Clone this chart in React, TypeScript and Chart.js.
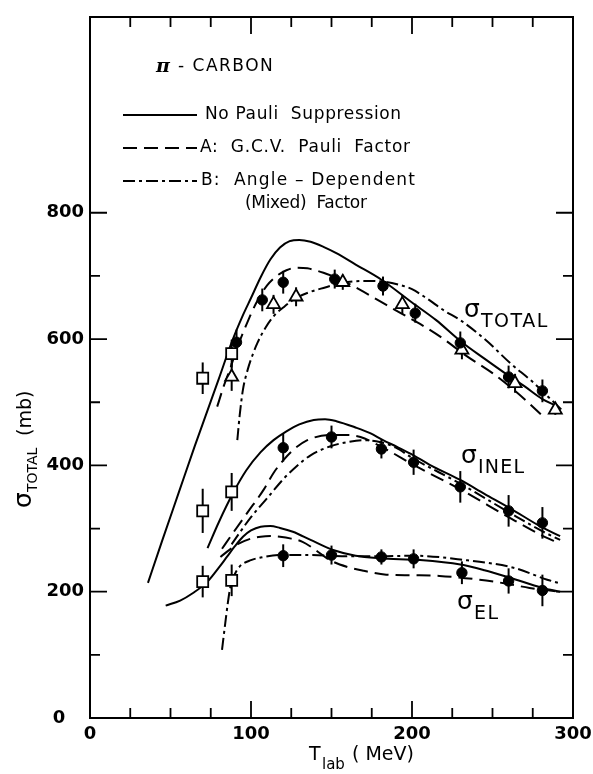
import React, { useEffect, useRef } from 'react';
import { Chart, registerables } from 'chart.js';
Chart.register(...registerables);

const FONT = '"DejaVu Sans", sans-serif';

// axis
const xTickLabels = [0, 100, 200, 300];
const yTickLabels = [0, 200, 400, 600, 800];
const xInnerTicks = [25, 50, 75, 100, 125, 150, 175, 200, 225, 250, 275];
const yInnerTicks = [100, 200, 300, 400, 500, 600, 700, 800];

// theory curves [T_lab (MeV), sigma (mb)]
const totalNoPauli = [[36,214],[45,282],[55,356],[65,430],[72,480],[80,537],[88,595],[95,638],[100,665],[106,698],[112,726],[118,745],[124,755],[130,757],[137,754],[145,746],[153,736],[165,718],[181,694],[200,658],[215,630],[230,597],[245,569],[260,542],[270,525],[281,505],[290,494]];
const totalGCV = [[79,493],[83,525],[87,553],[92,590],[97,622],[103,656],[110,685],[116,700],[122,709],[128,713],[135,712],[145,705],[155,695],[167,679],[180,660],[193,641],[205,624],[218,603],[234,573],[250,546],[263,520],[272,500],[280,481]];
const totalMixed = [[91.5,440],[93,480],[95,520],[98,552],[101,575],[104,594],[109,618],[114,636],[121,652],[128,665],[136,674],[145,681],[157,689],[170,692],[182,691],[192,686],[200,679],[210,663],[220,645],[230,630],[246,598],[261,562],[275,532],[284,510],[293,488]];

const inelNoPauli = [[73,269],[80,310],[89,357],[97,392],[106,421],[114,440],[122,454],[130,465],[139,472],[146,473],[153,470],[165,460],[174,451],[182,440],[191,429],[201,416],[211,401],[230,377],[245,355],[261,332],[280,303],[292,288]];
const inelGCV = [[82,268],[88,290],[98,326],[108,362],[114,388],[120,408],[126,424],[135,440],[149,448],[160,448],[168,445],[182,428],[203,398],[230,362],[260,318],[280,290],[292,276]];
const inelMixed = [[88,275],[92,290],[100,318],[110,348],[120,378],[128,398],[137,416],[149,430],[160,437],[170,440],[180,437],[190,428],[200,412],[230,371],[260,326],[280,297],[292,282]];

const elNoPauli = [[47,178],[56,186],[64,198],[73,216],[80,238],[85,255],[90,272],[95,287],[100,297],[106,303],[112,304],[118,301],[126,295],[137,282],[151,266],[165,257],[180,253],[205,250],[230,243],[245,234],[261,222],[281,206],[292,200]];
const elGCV = [[81,255],[87,267],[93,277],[100,284],[106,287],[112,288],[118,287],[125,284],[132,279],[139,268],[149,250],[160,239],[170,233],[184,227],[200,226],[217,225],[242,219],[258,213],[273,206],[292,200]];
const elMixed = [[82,108],[84,150],[85.5,180],[87,205],[90,228],[93,240],[100,250],[106,254],[118,258],[137,258],[160,256],[180,256],[201,257],[230,251],[263,238],[284,219],[292,213]];

// data points [T_lab, sigma] and errors
const totalSquares = [[70,538],[88,577]];
const totalSquaresErr = [25, 22];
const totalCircles = [[91,595],[107,662],[120,690],[152,695],[182,684],[202,641],[230,594],[260,540],[281,518]];
const totalCirclesErr = [20, 18, 18, 15, 15, 15, 18, 18, 18];
const totalTriangles = [[88,540],[114,655],[128,667],[157,690],[194,655],[231,583],[264,530],[289,488]];
const totalTrianglesErr = [22, 15, 15, 12, 15, 15, 15, 8];
const inelSquares = [[70,328],[88,358]];
const inelSquaresErr = [35, 30];
const inelCircles = [[120,428],[150,445],[181,426],[201,405],[230,366],[260,328],[281,309]];
const inelCirclesErr = [22, 18, 15, 20, 25, 25, 25];
const elSquares = [[70,216],[88,218]];
const elSquaresErr = [25, 25];
const elCircles = [[120,257],[150,258],[181,255],[201,252],[231,230],[260,217],[281,202]];
const elCirclesErr = [18, 15, 12, 15, 18, 20, 25];

const DASH_A = [14, 7];
const DASH_B = [12, 4, 3, 4];

const toXY = (a: number[][]) => a.map(([x, y]) => ({ x, y }));

function curve(data: number[][], dash: number[]) {
  return {
    data: toXY(data), showLine: true, pointRadius: 0, pointHoverRadius: 0,
    borderColor: '#000', borderWidth: 2, borderDash: dash,
    cubicInterpolationMode: 'monotone', fill: false, order: 5,
  };
}

function marker(data: number[][], errs: number[], style: string) {
  const filled = style === 'circle';
  return {
    data: toXY(data), showLine: false, errs,
    pointStyle: style,
    pointRadius: style === 'rect' ? 7.8 : style === 'triangle' ? 7.5 : 5.2,
    pointHoverRadius: style === 'rect' ? 7.8 : 7,
    backgroundColor: filled ? '#000' : '#fff', borderColor: '#000',
    borderWidth: filled ? 1 : 1.8, order: 1,
  };
}

function fitText(ctx: any, text: string, x: number, y: number, font: string, width?: number) {
  ctx.font = font;
  if (width && 'letterSpacing' in ctx && text.length > 1) {
    const w = ctx.measureText(text).width;
    const ls = Math.max(-1, Math.min(1.5, (width - w) / (text.length - 1)));
    ctx.letterSpacing = ls.toFixed(2) + 'px';
  }
  ctx.fillText(text, x, y);
  if ('letterSpacing' in ctx) ctx.letterSpacing = '0px';
}

const framePlugin = {
  id: 'frameTicks',
  beforeDatasetsDraw(chart: any) {
    const { ctx, scales } = chart;
    ctx.save();
    ctx.strokeStyle = '#000';
    ctx.lineWidth = 2;
    ctx.setLineDash([]);
    chart.data.datasets.forEach((ds: any) => {
      if (!ds.errs) return;
      ds.data.forEach((p: any, i: number) => {
        const e = ds.errs[i];
        const px = scales.x.getPixelForValue(p.x);
        ctx.beginPath();
        ctx.moveTo(px, scales.y.getPixelForValue(p.y - e));
        ctx.lineTo(px, scales.y.getPixelForValue(p.y + e));
        ctx.stroke();
      });
    });
    ctx.restore();
  },
  afterDraw(chart: any) {
    const { ctx, chartArea: a, scales } = chart;
    ctx.save();
    ctx.strokeStyle = '#000';
    ctx.fillStyle = '#000';
    ctx.setLineDash([]);
    ctx.lineWidth = 2;
    ctx.strokeRect(a.left, a.top, a.right - a.left, a.bottom - a.top);
    ctx.lineWidth = 1.8;
    ctx.beginPath();
    xInnerTicks.forEach((v) => {
      const px = scales.x.getPixelForValue(v);
      const len = v % 100 === 0 ? 17 : 10;
      ctx.moveTo(px, a.bottom); ctx.lineTo(px, a.bottom - len);
      ctx.moveTo(px, a.top); ctx.lineTo(px, a.top + len);
    });
    yInnerTicks.forEach((v) => {
      const py = scales.y.getPixelForValue(v);
      const len = v % 200 === 0 ? 17 : 10;
      ctx.moveTo(a.left, py); ctx.lineTo(a.left + len, py);
      ctx.moveTo(a.right, py); ctx.lineTo(a.right - len, py);
    });
    ctx.stroke();

    // header and legend
    ctx.textBaseline = 'middle';
    ctx.textAlign = 'left';
    fitText(ctx, 'π', 156, 67, 'italic bold 19px "DejaVu Serif", serif');
    fitText(ctx, '- CARBON', 178, 67, '17px ' + FONT, 106);

    const lx0 = 123, lx1 = 197;
    const legendLines: [number, number[]][] = [[115, []], [148, DASH_A], [181, DASH_B]];
    ctx.lineWidth = 2;
    legendLines.forEach(([y, d]) => {
      ctx.setLineDash(d);
      ctx.beginPath();
      ctx.moveTo(lx0, y); ctx.lineTo(lx1, y);
      ctx.stroke();
    });
    ctx.setLineDash([]);
    fitText(ctx, 'No Pauli  Suppression', 205, 115, '17px ' + FONT, 196);
    fitText(ctx, 'A:  G.C.V.  Pauli  Factor', 200, 148, '17px ' + FONT, 210);
    fitText(ctx, 'B:  Angle – Dependent', 201, 181, '17px ' + FONT, 214);
    fitText(ctx, '(Mixed)  Factor', 245, 204, '17px ' + FONT, 122);

    // curve labels
    ctx.textBaseline = 'alphabetic';
    const lab = (x: number, y: number, sub: string, w: number) => {
      fitText(ctx, 'σ', x, y, '25px ' + FONT);
      fitText(ctx, sub, x + 17, y + 10, '19px ' + FONT, w);
    };
    lab(464, 317, 'TOTAL', 67);
    lab(461, 463, 'INEL', 46);
    lab(457, 609, 'EL', 24);

    // x title
    fitText(ctx, 'T', 309, 760, '19px ' + FONT);
    fitText(ctx, 'lab', 322, 769, '15px ' + FONT);
    fitText(ctx, '( MeV)', 352, 760, '19px ' + FONT);

    // y title
    ctx.translate(31, 508);
    ctx.rotate(-Math.PI / 2);
    fitText(ctx, 'σ', 0, 0, '25px ' + FONT);
    fitText(ctx, 'TOTAL', 16, 6, '14px ' + FONT);
    fitText(ctx, '(mb)', 72, 0, '19px ' + FONT);
    ctx.restore();
  },
};

export default function App() {
  const ref = useRef<HTMLCanvasElement | null>(null);
  useEffect(() => {
    if (!ref.current) return;
    const tickFont = { family: FONT, size: 18, weight: 'bold' as const };
    const chart = new Chart(ref.current, {
      type: 'scatter',
      data: {
        datasets: [
          marker(totalSquares, totalSquaresErr, 'rect'),
          marker(totalCircles, totalCirclesErr, 'circle'),
          marker(totalTriangles, totalTrianglesErr, 'triangle'),
          marker(inelSquares, inelSquaresErr, 'rect'),
          marker(inelCircles, inelCirclesErr, 'circle'),
          marker(elSquares, elSquaresErr, 'rect'),
          marker(elCircles, elCirclesErr, 'circle'),
          curve(totalNoPauli, []),
          curve(totalGCV, DASH_A),
          curve(totalMixed, DASH_B),
          curve(inelNoPauli, []),
          curve(inelGCV, DASH_A),
          curve(inelMixed, DASH_B),
          curve(elNoPauli, []),
          curve(elGCV, DASH_A),
          curve(elMixed, DASH_B),
        ] as any,
      },
      options: {
        animation: false,
        responsive: true,
        maintainAspectRatio: false,
        events: [],
        layout: { padding: { left: 0, top: 17, right: 20, bottom: 0 } },
        plugins: { legend: { display: false }, tooltip: { enabled: false } },
        scales: {
          x: {
            type: 'linear', min: 0, max: 300,
            afterBuildTicks: (s: any) => { s.ticks = xTickLabels.map((v) => ({ value: v })); },
            afterFit: (s: any) => { s.height = 56; s.paddingLeft = 0; s.paddingRight = 0; },
            grid: { display: false, drawTicks: false },
            border: { display: false },
            ticks: { font: tickFont, color: '#000', padding: 6, maxRotation: 0, autoSkip: false },
          },
          y: {
            type: 'linear', min: 0, max: 1110,
            afterBuildTicks: (s: any) => { s.ticks = yTickLabels.map((v) => ({ value: v })); },
            afterFit: (s: any) => { s.width = 90; s.paddingTop = 0; s.paddingBottom = 0; },
            grid: { display: false, drawTicks: false },
            border: { display: false },
            ticks: {
              font: tickFont, color: '#000', padding: 6, autoSkip: false,
              callback: (v: any) => (v === 0 ? '0   ' : String(v)),
            },
          },
        },
      } as any,
      plugins: [framePlugin],
    });
    return () => chart.destroy();
  }, []);
  return (
    <div style={{ position: 'fixed', left: 0, top: 0, width: 593, height: 774, background: '#fff' }}>
      <canvas ref={ref} />
    </div>
  );
}
